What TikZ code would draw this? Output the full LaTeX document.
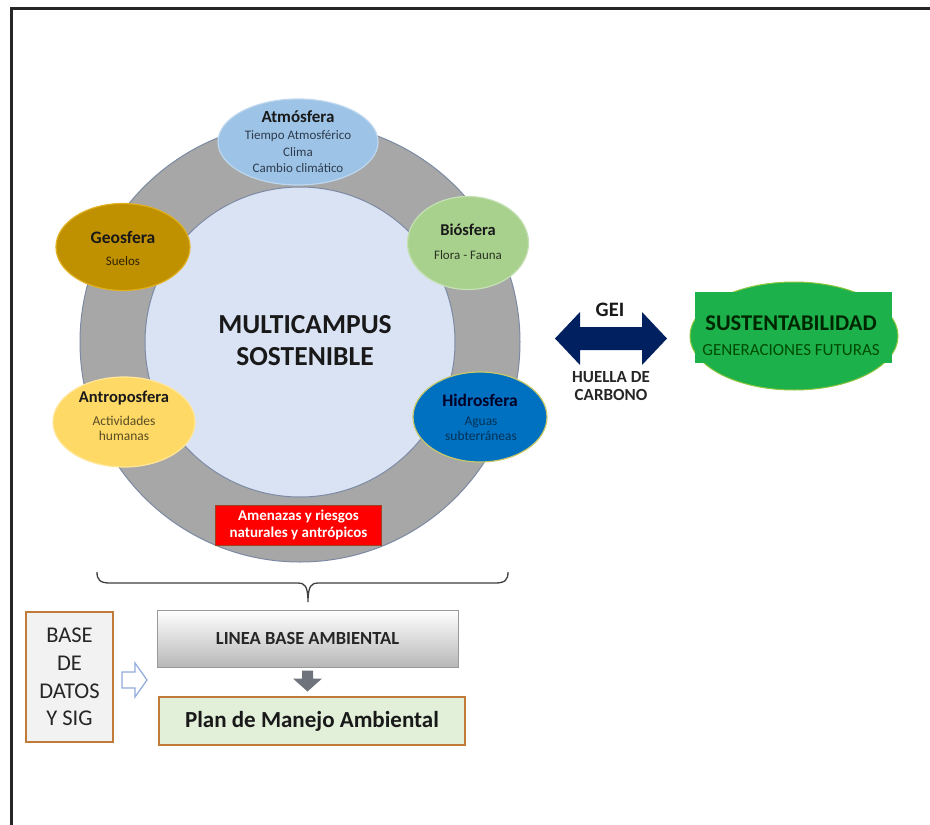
\documentclass[tikz,border=0pt]{standalone}
\usepackage{fontspec}
\setmainfont{Carlito}
\usetikzlibrary{shapes.geometric}
\definecolor{ringgray}{HTML}{A7A7A7}
\definecolor{ringedge}{HTML}{7D8AA3}
\definecolor{innerblue}{HTML}{DAE3F3}
\definecolor{atmfill}{HTML}{9DC3E6}
\definecolor{atmedge}{HTML}{BDD7EE}
\definecolor{geofill}{HTML}{BF9000}
\definecolor{geoedge}{HTML}{E0B020}
\definecolor{biofill}{HTML}{A9D18E}
\definecolor{bioedge}{HTML}{C5E0B4}
\definecolor{antfill}{HTML}{FFD966}
\definecolor{antedge}{HTML}{FFE699}
\definecolor{hidfill}{HTML}{0070C0}
\definecolor{hidedge}{HTML}{C8C86A}
\definecolor{navyarrow}{HTML}{002060}
\definecolor{sgreen}{HTML}{1DB14B}
\definecolor{sgreenedge}{HTML}{8CC63F}
\definecolor{redbox}{HTML}{FF0000}
\definecolor{rededge}{HTML}{A04020}
\definecolor{planfill}{HTML}{E2EFD9}
\definecolor{brownedge}{HTML}{C07A3A}
\definecolor{dbfill}{HTML}{F2F2F2}
\definecolor{downgray}{HTML}{6E737C}
\definecolor{hollowedge}{HTML}{8FAADC}
\definecolor{subtxt}{HTML}{2E3B4E}
\begin{document}
\begin{tikzpicture}[x=1pt,y=-1pt,
  sph/.style={ellipse, inner sep=0pt, line width=1.2pt},
  ttl/.style={font=\fontsize{16.5}{19}\selectfont\bfseries, text=black!90, inner sep=0pt},
  sub/.style={font=\fontsize{13}{16.5}\selectfont, align=center, inner sep=0pt},
]
\useasboundingbox (0,0) rectangle (930,825);
\fill[white] (0,0) rectangle (930,825);
\draw[line width=3pt, black!85] (11,825) -- (11,8) -- (930,8);

% ring
\coordinate (C) at (300,342);
\filldraw[fill=ringgray, draw=ringedge, line width=1pt] (C) circle[radius=220];
\filldraw[fill=innerblue, draw=ringedge, line width=1pt] (C) circle[radius=155];

\node[font=\fontsize{27.5}{32}\selectfont\bfseries, align=center, text=black!90] (mc) at (305,341) {MULTICAMPUS\\SOSTENIBLE};

% spheres
\node[sph, fill=atmfill, draw=atmedge, minimum width=160, minimum height=86] (atm) at (298,142) {};
\node[ttl, font=\fontsize{17}{19}\selectfont\bfseries] (atmT) at (298,117) {Atmósfera};
\node[sub, text=subtxt] (atmS) at (298,152) {Tiempo Atmosférico\\Clima\\Cambio climático};

\node[sph, fill=geofill, draw=geoedge, minimum width=134, minimum height=87] (geo) at (123,247) {};
\node[ttl, font=\fontsize{17.5}{19}\selectfont\bfseries] (geoT) at (123,237) {Geosfera};
\node[sub, text=black!75!geofill] (geoS) at (123,261) {Suelos};

\node[sph, fill=biofill, draw=bioedge, minimum width=121, minimum height=93] (bio) at (468,243) {};
\node[ttl] (bioT) at (468,230) {Biósfera};
\node[sub, text=black!75!biofill] (bioS) at (468,255) {Flora - Fauna};

\node[sph, fill=antfill, draw=antedge, minimum width=142, minimum height=90] (ant) at (124,422) {};
\node[ttl] (antT) at (124,398) {Antroposfera};
\node[sub, text=black!65!antfill, font=\fontsize{13.5}{15}\selectfont] (antS) at (124,428) {Actividades\\humanas};

\node[sph, fill=hidfill, draw=hidedge, minimum width=134, minimum height=90] (hid) at (480,417) {};
\node[ttl, text=black!85!blue, font=\fontsize{17.5}{19}\selectfont\bfseries] (hidT) at (480,400) {Hidrosfera};
\node[sub, text=black!55!hidfill, font=\fontsize{13.5}{15}\selectfont] (hidS) at (481,429) {Aguas\\subterráneas};

% amenazas
\node[draw=rededge, fill=redbox, line width=1pt, minimum width=166, minimum height=40, inner sep=0pt,
  font=\fontsize{15}{16.5}\selectfont\bfseries, text=white, align=center] (amz) at (298.5,525) {Amenazas y riesgos\\naturales y antrópicos};

% GEI double arrow
\coordinate (gL) at (555,338.5);
\coordinate (gR) at (667,338.5);
\fill[navyarrow] (gL) -- ++(25,-26.5) -- ++(0,15) -- ++(62,0) -- ++(0,-15) -- (gR)
  -- ++(-25,26.5) -- ++(0,-15) -- ++(-62,0) -- ++(0,15) -- cycle;
\node[font=\fontsize{20.5}{20}\selectfont\bfseries, text=black!90] (gei) at (610,310) {GEI};
\node[font=\fontsize{17}{18.5}\selectfont\bfseries, align=center, text=black!85] (huella) at (611,386) {HUELLA DE\\CARBONO};

% sustentabilidad
\filldraw[fill=sgreen, draw=sgreenedge, line width=1pt] (794,336) ellipse[x radius=104, y radius=54];
\node[fill=sgreen, minimum width=197, minimum height=71, inner sep=0pt] (sust) at (793.5,327.5) {};
\node[font=\fontsize{22.5}{24}\selectfont\bfseries, text=black!85!green] (sustT) at (791,323) {SUSTENTABILIDAD};
\node[font=\fontsize{17}{19}\selectfont, text=black!70!green] (sustS) at (791,350) {GENERACIONES FUTURAS};

% brace
\coordinate (bL) at (97,572);
\coordinate (bR) at (508,572);
\coordinate (bT) at (308,602);
\draw[black!75, line width=1.3pt] (bL) .. controls (97,580) and (100,583) .. (110,583) -- (298,583)
  .. controls (304,583) and (308,585) .. (bT)
  .. controls (308,585) and (312,583) .. (318,583) -- (495,583)
  .. controls (505,583) and (508,580) .. (bR);

% lower boxes
\node[draw=black!40, top color=white, bottom color=black!28, line width=1pt, minimum width=301, minimum height=57, inner sep=0pt,
  font=\fontsize{18.5}{19}\selectfont\bfseries, text=black!85] (lb) at (307.5,638.5) {LINEA BASE AMBIENTAL};
\node[draw=brownedge, fill=planfill, line width=1.5pt, minimum width=306, minimum height=48, inner sep=0pt,
  font=\fontsize{23}{24}\selectfont\bfseries, text=black!90] (plan) at (312,721) {Plan de Manejo Ambiental};
\node[draw=brownedge, fill=dbfill, line width=1.5pt, minimum width=87, minimum height=130, inner sep=0pt,
  font=\fontsize{22.5}{27.7}\selectfont, align=center, text=black!85] (db) at (69.5,677) {BASE\\DE\\DATOS\\Y SIG};

% down arrow
\fill[downgray] ([xshift=-5.5]lb.south) ++(0,3) -- ++(11,0) -- ++(0,8) -- ++(9,0) -- ([yshift=-24]lb.south)
  -- ++(-14.5,-13) -- ++(9,0) -- cycle;
% hollow arrow
\coordinate (hA) at (122,680);
\filldraw[fill=white, draw=hollowedge, line width=1.2pt] (hA) ++(0,-8) -- ++(13,0) -- ++(0,-9) -- ++(12,17)
  -- ++(-12,17) -- ++(0,-9) -- ++(-13,0) -- cycle;
\end{tikzpicture}
\end{document}
